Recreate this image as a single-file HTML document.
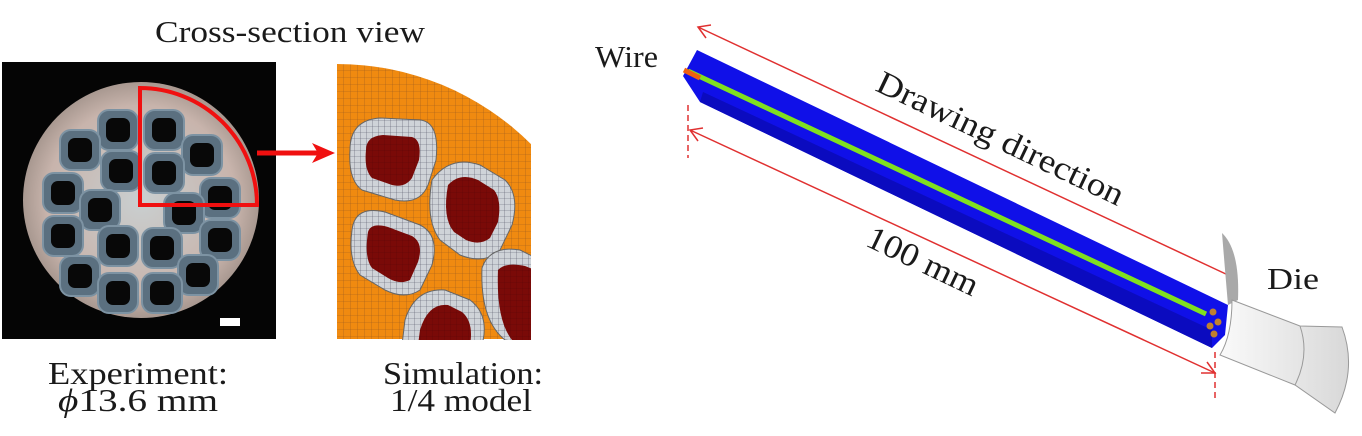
<!DOCTYPE html>
<html><head><meta charset="utf-8"><style>
html,body{margin:0;padding:0;background:#fff;}
svg{display:block;}
text{font-family:"Liberation Serif",serif;fill:#1a1a1a;}
</style></head><body>
<svg width="1362" height="436" viewBox="0 0 1362 436" xmlns="http://www.w3.org/2000/svg">
<defs>
<pattern id="mesh" width="7" height="7" patternUnits="userSpaceOnUse">
<rect width="7" height="7" fill="#f08a10"/>
<path d="M0 0H7M0 0V7" stroke="#9a5a20" stroke-width="0.6"/>
</pattern>
<pattern id="mesh2" width="6" height="6" patternUnits="userSpaceOnUse">
<rect width="6" height="6" fill="#cfd3d8"/>
<path d="M0 0H6M0 0V6" stroke="#556" stroke-width="0.6"/>
</pattern>
<pattern id="mesh3" width="6" height="6" patternUnits="userSpaceOnUse">
<rect width="6" height="6" fill="#7a0a08"/>
<path d="M0 0H6M0 0V6" stroke="#5a0505" stroke-width="0.5"/>
</pattern>
<clipPath id="simclip"><rect x="337" y="62" width="194" height="278"/></clipPath>
<radialGradient id="disk" cx="50%" cy="50%" r="50%">
<stop offset="0" stop-color="#c9cfd0"/><stop offset="0.8" stop-color="#c8b4ac"/><stop offset="1" stop-color="#a89890"/>
</radialGradient>
<linearGradient id="die" x1="0" y1="0" x2="1" y2="0">
<stop offset="0" stop-color="#fafafa"/><stop offset="1" stop-color="#d8d8d8"/>
</linearGradient>
</defs>

<text x="155" y="42" font-size="31" textLength="270" lengthAdjust="spacingAndGlyphs">Cross-section view</text>

<!-- experiment image -->
<rect x="2" y="62" width="274" height="277" fill="#050505"/>
<circle cx="141" cy="200" r="118" fill="url(#disk)"/>
<g fill="#5b7080" stroke="#7d93a3" stroke-width="2">
<rect x="98" y="110" width="40" height="40" rx="11"/>
<rect x="144" y="110" width="40" height="40" rx="11"/>
<rect x="60" y="130" width="40" height="40" rx="11"/>
<rect x="182" y="135" width="40" height="40" rx="11"/>
<rect x="101" y="151" width="40" height="40" rx="11"/>
<rect x="144" y="153" width="40" height="40" rx="11"/>
<rect x="43" y="173" width="40" height="40" rx="11"/>
<rect x="200" y="178" width="40" height="40" rx="11"/>
<rect x="80" y="190" width="40" height="40" rx="11"/>
<rect x="164" y="193" width="40" height="40" rx="11"/>
<rect x="43" y="216" width="40" height="40" rx="11"/>
<rect x="200" y="220" width="40" height="40" rx="11"/>
<rect x="98" y="226" width="40" height="40" rx="11"/>
<rect x="142" y="228" width="40" height="40" rx="11"/>
<rect x="60" y="256" width="40" height="40" rx="11"/>
<rect x="178" y="255" width="40" height="40" rx="11"/>
<rect x="98" y="273" width="40" height="40" rx="11"/>
<rect x="142" y="273" width="40" height="40" rx="11"/>
</g>
<g fill="#080808">
<rect x="106" y="118" width="24" height="24" rx="7"/><rect x="152" y="118" width="24" height="24" rx="7"/>
<rect x="68" y="138" width="24" height="24" rx="7"/><rect x="190" y="143" width="24" height="24" rx="7"/>
<rect x="109" y="159" width="24" height="24" rx="7"/><rect x="152" y="161" width="24" height="24" rx="7"/>
<rect x="51" y="181" width="24" height="24" rx="7"/><rect x="208" y="186" width="24" height="24" rx="7"/>
<rect x="88" y="198" width="24" height="24" rx="7"/><rect x="172" y="201" width="24" height="24" rx="7"/>
<rect x="51" y="224" width="24" height="24" rx="7"/><rect x="208" y="228" width="24" height="24" rx="7"/>
<rect x="106" y="234" width="24" height="24" rx="7"/><rect x="150" y="236" width="24" height="24" rx="7"/>
<rect x="68" y="264" width="24" height="24" rx="7"/><rect x="186" y="263" width="24" height="24" rx="7"/>
<rect x="106" y="281" width="24" height="24" rx="7"/><rect x="150" y="281" width="24" height="24" rx="7"/>
</g>
<rect x="220" y="318" width="20" height="8" fill="#fff"/>
<path d="M140 88 V205 H257 A117 117 0 0 0 140 88 Z" fill="none" stroke="#f01010" stroke-width="4"/>
<line x1="257" y1="153" x2="320" y2="153" stroke="#f01010" stroke-width="5"/>
<path d="M312 143 L335 153 L312 163 L318 153 Z" fill="#f01010"/>

<!-- simulation -->
<g clip-path="url(#simclip)">
<path d="M337 339 V64 A275 275 0 0 1 612 339 Z" fill="url(#mesh)"/>
<g fill="url(#mesh2)" stroke="#666" stroke-width="1">
<path d="M350 150 Q350 120 380 118 L420 120 Q440 122 436 160 L428 185 Q420 205 395 200 L362 190 Q348 180 350 150Z"/>
<path d="M432 180 Q450 155 480 165 L505 180 Q520 195 512 225 L500 250 Q485 265 460 255 L440 240 Q425 220 432 180Z"/>
<path d="M352 230 Q355 205 385 212 L420 225 Q440 235 432 265 L420 290 Q405 300 385 290 L360 275 Q348 260 352 230Z"/>
<path d="M482 268 Q490 245 520 250 L540 260 L540 345 L505 340 Q480 320 482 268Z"/>
<path d="M405 320 Q415 288 445 290 L470 300 Q490 315 482 345 L402 345 Z"/>
</g>
<g fill="url(#mesh3)">
<path d="M366 150 Q366 136 383 135 L412 137 Q422 140 419 160 L412 178 Q405 188 392 185 L372 178 Q364 170 366 150Z"/>
<path d="M448 185 Q460 172 478 180 L494 190 Q502 200 498 222 L490 238 Q480 246 466 240 L454 232 Q442 218 448 185Z"/>
<path d="M368 232 Q371 222 388 227 L412 236 Q424 243 418 262 L410 280 Q400 285 388 278 L372 268 Q364 258 368 232Z"/>
<path d="M498 270 Q505 262 525 266 L540 272 L540 345 L512 340 Q496 320 498 270Z"/>
<path d="M420 330 Q428 303 448 305 L462 312 Q474 322 470 345 L418 345 Z"/>
</g>
</g>

<text x="48" y="384" font-size="32" textLength="180" lengthAdjust="spacingAndGlyphs">Experiment:</text>
<text x="58" y="411" font-size="32" textLength="160" lengthAdjust="spacingAndGlyphs"><tspan font-style="italic">ϕ</tspan>13.6 mm</text>
<text x="383" y="384" font-size="32" textLength="160" lengthAdjust="spacingAndGlyphs">Simulation:</text>
<text x="390" y="411" font-size="32" textLength="142" lengthAdjust="spacingAndGlyphs">1/4 model</text>

<!-- wire -->
<text x="595" y="67" font-size="31" textLength="63" lengthAdjust="spacingAndGlyphs">Wire</text>
<path d="M697 50 L1228 305 L1225 335 L1212 348 L700 102 L683 76 Z" fill="#1010e8"/>
<path d="M700 102 L1212 348 L1212 330 L703 92 Z" fill="#0b0bbf"/>
<line x1="688" y1="71" x2="1206" y2="314" stroke="#80e020" stroke-width="5"/>
<line x1="684" y1="70" x2="700" y2="78" stroke="#f06010" stroke-width="5"/>
<g fill="#c08030"><circle cx="1213" cy="312" r="3.5"/><circle cx="1218" cy="322" r="3.5"/><circle cx="1210" cy="326" r="3.5"/><circle cx="1214" cy="334" r="3.5"/></g>
<g stroke="#e03030" stroke-width="1.5" fill="none">
<line x1="698" y1="27" x2="1228" y2="275"/>
<path d="M711 25 L698 27 L706 38"/>
<line x1="690" y1="130" x2="1215" y2="373"/>
<path d="M703 128 L690 130 L698 141"/>
<path d="M1201 373 L1215 373 L1207 362"/>
<line x1="688" y1="105" x2="688" y2="158" stroke-dasharray="6,4"/>
<line x1="1215" y1="352" x2="1215" y2="402" stroke-dasharray="6,4"/>
</g>
<text font-size="33" transform="translate(874,90) rotate(25.5)" textLength="270" lengthAdjust="spacingAndGlyphs">Drawing direction</text>
<text font-size="33" transform="translate(864,245) rotate(25.5)" textLength="120" lengthAdjust="spacingAndGlyphs">100 mm</text>

<!-- die -->
<path d="M1222 233 Q1240 250 1238 300 L1228 305 Q1225 270 1222 233Z" fill="#a9a9a9"/>
<path d="M1232 300 L1300 326 L1342 327 Q1358 370 1335 413 L1295 385 L1220 355 Q1232 335 1232 300Z" fill="url(#die)" stroke="#999" stroke-width="1"/>
<path d="M1300 326 Q1310 355 1295 385" fill="none" stroke="#999" stroke-width="1"/>
<text x="1267" y="289" font-size="31" textLength="52" lengthAdjust="spacingAndGlyphs">Die</text>
</svg>
</body></html>
